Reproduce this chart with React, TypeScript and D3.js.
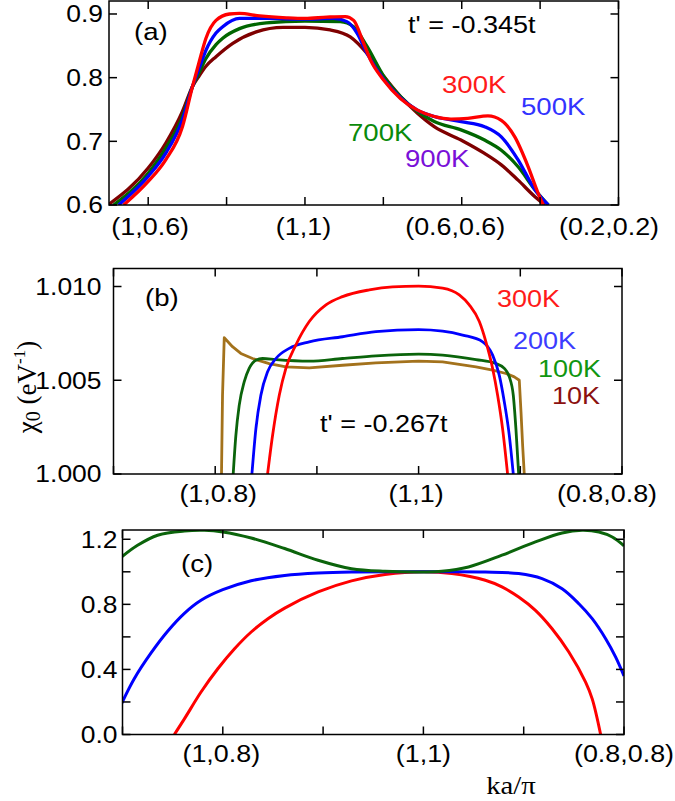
import React from 'react';
import * as d3 from 'd3';

const W = 675;
const H = 801;

// ---------- Panel (a) data: [path coordinate, value] ----------
const aXTicks = [0, 1, 2, 3, 4, 5, 6];
const aXLabelPos = [0, 2, 4, 6];
const aXLabels = ['(1,0.6)', '(1,1)', '(0.6,0.6)', '(0.2,0.2)'];
const aYTicks = [0.6, 0.7, 0.8, 0.9];
const a300K: [number, number][] = [
  [-0.313, 0.6], [0, 0.637], [0.223, 0.671], [0.437, 0.723], [0.565, 0.786], [0.651, 0.825],
  [0.737, 0.862], [0.865, 0.89], [1.036, 0.9], [1.165, 0.901], [1.422, 0.897], [1.764, 0.894],
  [2.0, 0.893], [2.278, 0.895], [2.514, 0.896], [2.621, 0.89], [2.749, 0.854], [2.835, 0.828],
  [3.006, 0.796], [3.221, 0.767], [3.435, 0.749], [3.649, 0.739], [3.863, 0.735], [4.077, 0.736],
  [4.334, 0.74], [4.505, 0.733], [4.677, 0.707], [4.848, 0.66], [4.976, 0.618], [5.041, 0.6],
];
const a500K: [number, number][] = [
  [-0.377, 0.6], [0, 0.645], [0.223, 0.681], [0.437, 0.734], [0.565, 0.786], [0.651, 0.815],
  [0.737, 0.843], [0.865, 0.87], [0.951, 0.88], [1.165, 0.893], [1.507, 0.893], [2.0, 0.892],
  [2.364, 0.893], [2.535, 0.888], [2.664, 0.87], [2.792, 0.838], [3.006, 0.797], [3.221, 0.768],
  [3.435, 0.749], [3.649, 0.739], [3.991, 0.731], [4.291, 0.723], [4.505, 0.707], [4.719, 0.671],
  [4.934, 0.624], [5.105, 0.6],
];
const a700K: [number, number][] = [
  [-0.441, 0.6], [0, 0.65], [0.223, 0.689], [0.437, 0.739], [0.565, 0.786], [0.651, 0.808],
  [0.737, 0.83], [0.865, 0.852], [0.951, 0.862], [1.165, 0.877], [1.507, 0.886], [2.0, 0.889],
  [2.45, 0.888], [2.621, 0.88], [2.792, 0.849], [3.006, 0.802], [3.221, 0.77], [3.435, 0.747],
  [3.649, 0.731], [3.991, 0.718], [4.291, 0.702], [4.505, 0.686], [4.719, 0.66], [4.934, 0.624],
  [5.105, 0.6],
];
const a900K: [number, number][] = [
  [-0.514, 0.6], [0, 0.658], [0.223, 0.697], [0.437, 0.747], [0.565, 0.786], [0.651, 0.803],
  [0.737, 0.818], [0.865, 0.833], [1.079, 0.854], [1.379, 0.872], [1.722, 0.879], [2.0, 0.879],
  [2.321, 0.875], [2.578, 0.864], [2.792, 0.838], [3.006, 0.802], [3.221, 0.77], [3.435, 0.744],
  [3.649, 0.723], [3.991, 0.702], [4.291, 0.681], [4.505, 0.663], [4.719, 0.639], [4.934, 0.613],
  [5.062, 0.6],
];

// ---------- Panel (b) data ----------
const bXTicks = [-1, 0, 1, 2, 3, 4];
const bXLabelPos = [0, 2, 4];
const bXLabels = ['(1,0.8)', '(1,1)', '(0.8,0.8)'];
const bYTicks = [1.0, 1.005, 1.01];
const b300K: [number, number][] = [
  [0.515, 1.0], [0.564, 1.00205], [0.63, 1.0042], [0.695, 1.00563], [0.793, 1.00688], [0.925, 1.00813],
  [1.089, 1.00902], [1.252, 1.00946], [1.515, 1.00982], [1.744, 1.00998], [2.0, 1.01002], [2.236, 1.00991],
  [2.4, 1.00955], [2.498, 1.00902], [2.597, 1.00813], [2.662, 1.00705], [2.728, 1.00563], [2.777, 1.0042],
  [2.826, 1.00241], [2.875, 1.0],
];
const b200K: [number, number][] = [
  [0.361, 1.0], [0.4, 1.00241], [0.449, 1.0042], [0.515, 1.00545], [0.597, 1.00616], [0.728, 1.0067],
  [0.925, 1.00705], [1.252, 1.00732], [1.58, 1.00759], [2.0, 1.0077], [2.236, 1.00762], [2.433, 1.00741],
  [2.63, 1.00705], [2.728, 1.00634], [2.793, 1.00527], [2.843, 1.00384], [2.892, 1.00205], [2.931, 1.0],
];
const b100K: [number, number][] = [
  [0.177, 1.0], [0.203, 1.00205], [0.236, 1.00366], [0.285, 1.00491], [0.334, 1.00563], [0.4, 1.00607],
  [0.466, 1.00616], [0.597, 1.0061], [0.925, 1.00602], [1.252, 1.00616], [1.58, 1.0063], [2.0, 1.00639],
  [2.236, 1.00634], [2.564, 1.0061], [2.761, 1.00589], [2.843, 1.00563], [2.892, 1.00518], [2.931, 1.0042],
  [2.957, 1.00241], [2.984, 1.0],
];
const b10K: [number, number][] = [
  [0.062, 1.0], [0.072, 1.0042], [0.089, 1.00727], [0.17, 1.00679], [0.252, 1.00643], [0.367, 1.00616],
  [0.531, 1.00589], [0.695, 1.00571], [0.925, 1.00566], [1.252, 1.0058], [1.58, 1.00593], [2.0, 1.00602],
  [2.236, 1.00598], [2.564, 1.00571], [2.728, 1.00554], [2.859, 1.00536], [2.941, 1.00518], [2.99, 1.005],
  [3.007, 1.0033], [3.023, 1.00152], [3.039, 1.0],
];

// ---------- Panel (c) data ----------
const cXTicks = [-1, 0, 1, 2, 3, 4];
const cXLabelPos = [0, 2, 4];
const cXLabels = ['(1,0.8)', '(1,1)', '(0.8,0.8)'];
const cYTicks = [0, 0.2, 0.4, 0.6, 0.8, 1.0, 1.2];
const cYLabelTicks = [0, 0.4, 0.8, 1.2];
const cGreen: [number, number][] = [
  [-1.01, 1.091], [-0.85, 1.163], [-0.65, 1.225], [-0.383, 1.251], [-0.183, 1.255], [0, 1.245],
  [0.283, 1.208], [0.617, 1.143], [0.95, 1.071], [1.283, 1.019], [1.617, 1.003], [2.0, 0.999],
  [2.183, 1.003], [2.45, 1.03], [2.783, 1.102], [3.117, 1.184], [3.383, 1.239], [3.583, 1.255],
  [3.75, 1.245], [3.883, 1.214], [4.0, 1.16],
];
const cBlue: [number, number][] = [
  [-1.01, 0.189], [-0.883, 0.343], [-0.717, 0.5], [-0.55, 0.635], [-0.383, 0.745], [-0.217, 0.825],
  [0, 0.89], [0.283, 0.945], [0.617, 0.978], [0.95, 0.993], [1.283, 0.999], [2.0, 1.0],
  [2.617, 0.999], [2.95, 0.989], [3.183, 0.958], [3.383, 0.896], [3.55, 0.804], [3.683, 0.712],
  [3.817, 0.589], [3.917, 0.476], [4.0, 0.36],
];
const cRed: [number, number][] = [
  [-0.483, 0.0], [-0.383, 0.096], [-0.217, 0.261], [-0.05, 0.404], [0.117, 0.527], [0.283, 0.63],
  [0.45, 0.712], [0.617, 0.777], [0.95, 0.876], [1.283, 0.944], [1.617, 0.983], [2.0, 1.0],
  [2.283, 0.989], [2.617, 0.948], [2.783, 0.907], [2.95, 0.845], [3.117, 0.763], [3.283, 0.65],
  [3.45, 0.507], [3.617, 0.322], [3.683, 0.219], [3.767, 0.0],
];

const SANS = "'Liberation Sans', Arial, Helvetica, sans-serif";
const SERIF = "'Liberation Serif', 'Times New Roman', serif";
const STRETCH = 1.15;

type Series = { data: [number, number][]; color: string; width: number; curve: d3.CurveFactory };
type Label = { text: string; x: number; y: number; color: string; size: number };

function T(props: {
  x: number; y: number; size: number; fill?: string; anchor?: string; family?: string;
  dy?: string; sx?: number; children: React.ReactNode;
}) {
  const sx = props.sx ?? STRETCH;
  return (
    <text transform={`translate(${props.x},${props.y}) scale(${sx},1)`} dy={props.dy}
      textAnchor={props.anchor ?? 'start'} fontFamily={props.family ?? SANS}
      fontSize={props.size} fill={props.fill ?? '#000'}>{props.children}</text>
  );
}

type PanelProps = {
  id: string;
  left: number; right: number; top: number; bottom: number;
  xDomain: [number, number];
  yDomain: [number, number];
  xTicks: number[];
  xLabelPos: number[];
  xLabels: string[];
  xLabelDx: number[];
  xLabelY: number;
  yTicks: number[];
  yLabelTicks: number[];
  yFmt: (v: number) => string;
  yLabelGap: number;
  series: Series[];
  labels: Label[];
};

function Panel(p: PanelProps) {
  const x = d3.scaleLinear().domain(p.xDomain).range([p.left, p.right]);
  const y = d3.scaleLinear().domain(p.yDomain).range([p.bottom, p.top]);
  const tick = 8;
  return (
    <g>
      <defs>
        <clipPath id={`clip-${p.id}`}>
          <rect x={p.left} y={p.top} width={p.right - p.left} height={p.bottom - p.top} />
        </clipPath>
      </defs>
      <g clipPath={`url(#clip-${p.id})`}>
        {p.series.map((s, i) => {
          const line = d3
            .line<[number, number]>()
            .x((d) => x(d[0]))
            .y((d) => y(d[1]))
            .curve(s.curve);
          return (
            <path key={i} d={line(s.data) || ''} fill="none" stroke={s.color} strokeWidth={s.width}
              strokeLinejoin="round" strokeLinecap="butt" />
          );
        })}
      </g>
      {p.xTicks.map((t) => (
        <g key={`xt${t}`} stroke="#000" strokeWidth={1.5}>
          <line x1={x(t)} x2={x(t)} y1={p.bottom} y2={p.bottom - tick} />
          <line x1={x(t)} x2={x(t)} y1={p.top} y2={p.top + tick} />
        </g>
      ))}
      {p.yTicks.map((t) => (
        <g key={`yt${t}`} stroke="#000" strokeWidth={1.5}>
          <line x1={p.left} x2={p.left + tick} y1={y(t)} y2={y(t)} />
          <line x1={p.right} x2={p.right - tick} y1={y(t)} y2={y(t)} />
        </g>
      ))}
      <rect x={p.left} y={p.top} width={p.right - p.left} height={p.bottom - p.top}
        fill="none" stroke="#000" strokeWidth={1.5} />
      {p.yLabelTicks.map((t) => (
        <T key={`yl${t}`} x={p.left - p.yLabelGap} y={y(t)} dy="0.36em" anchor="end" size={23}>
          {p.yFmt(t)}
        </T>
      ))}
      {p.xLabelPos.map((t, i) => (
        <T key={`xl${t}`} x={x(t) + p.xLabelDx[i]} y={p.xLabelY} anchor="middle" size={24} sx={1.12}>
          {p.xLabels[i]}
        </T>
      ))}
      {p.labels.map((l, i) => (
        <T key={`lb${i}`} x={l.x} y={l.y} size={l.size} fill={l.color}>{l.text}</T>
      ))}
    </g>
  );
}

export default function App() {
  return (
    <div style={{ position: 'absolute', left: 0, top: 0, width: W, height: H, background: '#fff' }}>
      <svg width={W} height={H} viewBox={`0 0 ${W} ${H}`} style={{ display: 'block' }}>
        <rect x={0} y={0} width={W} height={H} fill="#fff" />
        <Panel
          id="a" left={109} right={618.5} top={1} bottom={205}
          xDomain={[-0.5, 6]} yDomain={[0.6, 0.9204]}
          xTicks={aXTicks} xLabelPos={aXLabelPos} xLabels={aXLabels} xLabelDx={[2, -1.5, -6.5, -9.5]} xLabelY={235}
          yTicks={aYTicks} yLabelTicks={aYTicks} yFmt={d3.format('.1f')} yLabelGap={6}
          series={[
            { data: a900K, color: '#7f0000', width: 3.3, curve: d3.curveMonotoneX },
            { data: a700K, color: '#006600', width: 3.3, curve: d3.curveMonotoneX },
            { data: a500K, color: '#0000ff', width: 3.3, curve: d3.curveMonotoneX },
            { data: a300K, color: '#ff0000', width: 3.3, curve: d3.curveMonotoneX },
          ]}
          labels={[
            { text: '(a)', x: 134, y: 40, color: '#000', size: 24 },
            { text: "t' = -0.345t", x: 408, y: 33, color: '#000', size: 23.5 },
            { text: '300K', x: 442, y: 93, color: '#ff1a1a', size: 24 },
            { text: '500K', x: 521, y: 115, color: '#3333ff', size: 24 },
            { text: '700K', x: 348, y: 141, color: '#0a8a0a', size: 24 },
            { text: '900K', x: 405, y: 167, color: '#7a10d8', size: 24 },
          ]}
        />
        <Panel
          id="b" left={113.5} right={622} top={268.5} bottom={474}
          xDomain={[-1, 4]} yDomain={[1.0, 1.01096]}
          xTicks={bXTicks} xLabelPos={bXLabelPos} xLabels={bXLabels} xLabelDx={[3, -2.5, -15]} xLabelY={502}
          yTicks={bYTicks} yLabelTicks={bYTicks} yFmt={d3.format('.3f')} yLabelGap={12}
          series={[
            { data: b10K, color: '#a3721c', width: 2.8, curve: d3.curveLinear },
            { data: b100K, color: '#0b640b', width: 2.8, curve: d3.curveMonotoneX },
            { data: b200K, color: '#0000ff', width: 2.8, curve: d3.curveMonotoneX },
            { data: b300K, color: '#ff0000', width: 2.8, curve: d3.curveMonotoneX },
          ]}
          labels={[
            { text: '(b)', x: 145, y: 306, color: '#000', size: 24 },
            { text: '300K', x: 497, y: 307, color: '#ff1a1a', size: 23.5 },
            { text: '200K', x: 513, y: 349, color: '#3c3cff', size: 23.5 },
            { text: '100K', x: 538, y: 377, color: '#119611', size: 23.5 },
            { text: '10K', x: 552, y: 404, color: '#8b1010', size: 23.5 },
            { text: "t' = -0.267t", x: 320, y: 432, color: '#000', size: 23.5 },
          ]}
        />
        <Panel
          id="c" left={122.5} right={624} top={530} bottom={734.5}
          xDomain={[-1, 4]} yDomain={[0, 1.257]}
          xTicks={cXTicks} xLabelPos={cXLabelPos} xLabels={cXLabels} xLabelDx={[-1.5, 0, 0]} xLabelY={762}
          yTicks={cYTicks} yLabelTicks={cYLabelTicks} yFmt={d3.format('.1f')} yLabelGap={5}
          series={[
            { data: cRed, color: '#ff0000', width: 3, curve: d3.curveCatmullRom },
            { data: cBlue, color: '#0000ff', width: 3, curve: d3.curveCatmullRom },
            { data: cGreen, color: '#0b640b', width: 3, curve: d3.curveCatmullRom },
          ]}
          labels={[
            { text: '(c)', x: 181, y: 572, color: '#000', size: 24 },
          ]}
        />
        <text transform="translate(36,387) rotate(-90)" textAnchor="middle" fontFamily={SERIF} fontSize={27} fill="#000">
          χ<tspan fontSize={20} dy={4}>0</tspan>
          <tspan dy={-4}> (eV</tspan>
          <tspan fontSize={17} dy={-11}>-1</tspan>
          <tspan dy={11}>)</tspan>
        </text>
        <T x={511} y={794} anchor="middle" family={SERIF} size={25}>ka/π</T>
      </svg>
    </div>
  );
}
